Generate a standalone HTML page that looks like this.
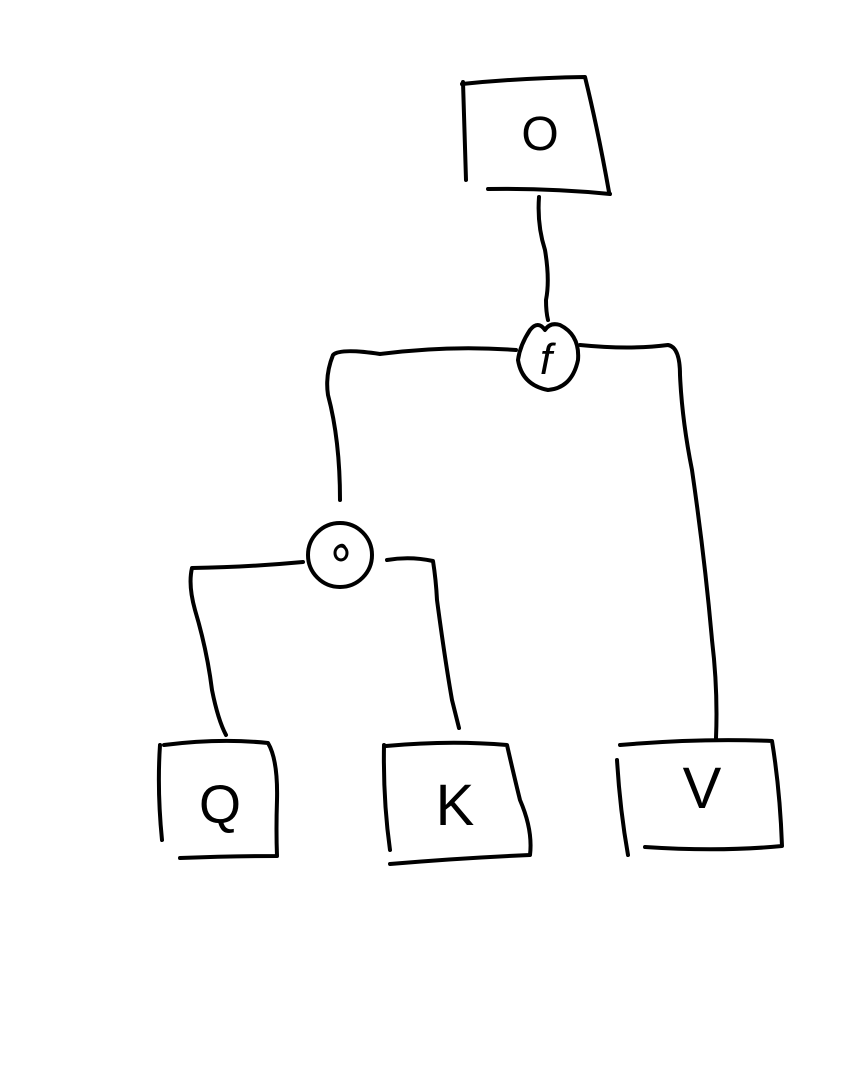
<!DOCTYPE html>
<html><head><meta charset="utf-8"><style>
html,body{margin:0;padding:0;background:#fff;}
svg{display:block}
text{font-family:"Liberation Sans",sans-serif;fill:#000}
</style></head><body>
<svg width="862" height="1066" viewBox="0 0 862 1066" xmlns="http://www.w3.org/2000/svg">
<g fill="none" stroke="#000" stroke-width="4" stroke-linecap="round" stroke-linejoin="round">
<!-- top box O -->
<path d="M463 82 L466 180"/>
<path d="M462 84 Q520 78 585 77 Q598 130 609 192"/>
<path d="M488 189 Q550 188 610 194"/>
<!-- connector O to f -->
<path d="M539 197 Q537 225 545 250 Q550 280 546 300 Q546 312 548 320"/>
<!-- circle f -->
<path d="M530 330 Q520 345 518 360 Q522 385 548 390 Q572 388 578 360 Q580 335 560 325 Q550 322 545 330 Q538 320 530 330 Z"/>
<!-- left branch from f -->
<path d="M516 350 Q450 345 380 354 Q340 348 333 355 Q325 375 328 395 Q340 440 340 500"/>
<!-- right branch from f -->
<path d="M580 345 Q630 350 668 345 Q680 347 680 375 Q682 420 692 470 Q705 560 712 640 Q718 690 716 738"/>
<!-- small circle -->
<circle cx="340" cy="555" r="32"/>
<path d="M303 562 Q250 567 192 568 Q188 585 195 610 Q207 650 212 690 Q218 720 226 735"/>
<path d="M387 560 Q410 556 433 561 Q436 580 437 600 Q445 660 452 700 Q457 720 459 728"/>
<!-- box Q -->
<path d="M160 745 Q157 790 162 840"/>
<path d="M164 745 Q220 738 268 743 Q278 760 277 800 Q276 830 277 856 Q230 856 180 858"/>
<!-- box K -->
<path d="M384 745 Q383 800 390 850"/>
<path d="M386 746 Q450 740 507 745 Q515 780 520 800 Q533 830 530 855 Q460 858 390 864"/>
<!-- box V -->
<path d="M617 760 Q620 810 628 855"/>
<path d="M620 745 Q700 738 772 741 Q780 790 782 846 Q720 852 645 847"/>
</g>
<!-- small circle inner mark -->
<g fill="none" stroke="#000" stroke-width="3">
<ellipse cx="341" cy="553" rx="6" ry="7"/>
<path d="M338 547 Q343 543 345 548"/>
</g>
<text x="540" y="150" font-size="48" text-anchor="middle">O</text>
<text x="546" y="374" font-size="44" font-style="italic" text-anchor="middle">f</text>
<text x="220" y="823" font-size="54" text-anchor="middle">Q</text>
<text x="455" y="825" font-size="58" text-anchor="middle">K</text>
<text x="702" y="808" font-size="58" text-anchor="middle">V</text>
</svg>
</body></html>
